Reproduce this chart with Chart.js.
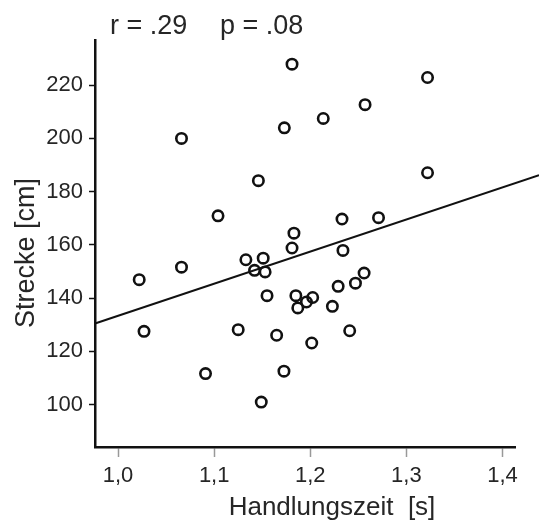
<!DOCTYPE html>
<html>
<head>
<meta charset="utf-8">
<script src="https://cdn.jsdelivr.net/npm/chart.js@4"></script>
<style>
html,body{margin:0;padding:0;background:#fff;}
canvas{display:block;}
</style>
</head>
<body>
<canvas id="c" width="539" height="525"></canvas>
<script>
// Data
const handlungszeit = [1.066,1.181,1.173,1.2135,1.257,1.322,1.322,1.146,1.104,1.233,1.271,1.183,1.181,1.234,1.133,1.151,1.142,1.153,1.066,1.022,1.256,1.247,1.229,1.155,1.185,1.2025,1.196,1.187,1.223,1.027,1.125,1.241,1.165,1.2015,1.091,1.1726,1.149];
const strecke = [200.0,227.9,204.0,207.5,212.7,222.9,187.1,184.1,170.9,169.7,170.2,164.4,158.8,157.9,154.4,155.0,150.4,149.8,151.6,146.9,149.4,145.6,144.4,140.9,140.9,140.2,138.5,136.3,136.9,127.5,128.1,127.7,126.0,123.1,111.6,112.5,100.9];
const fitLineX = [0.976, 1.438];
const fitLineY = [130.4, 186.2];
const xTickValues = [1.0, 1.1, 1.2, 1.3, 1.4];
const yTickValues = [100, 120, 140, 160, 180, 200, 220];
const statsTexts = ['r = .29', 'p = .08'];
const xTitle = 'Handlungszeit  [s]';
const yTitle = 'Strecke [cm]';

const FONT = "'Liberation Sans', Arial, sans-serif";
const TEXT = '#262626';
const INK = '#111';

const points = handlungszeit.map((x, i) => ({x: x, y: strecke[i]}));
const fitPoints = fitLineX.map((x, i) => ({x: x, y: fitLineY[i]}));

const textPlugin = {
  id: 'textPlugin',
  afterDraw(chart) {
    const ctx = chart.ctx;
    ctx.save();
    ctx.fillStyle = TEXT;
    ctx.textBaseline = 'alphabetic';
    // statistics line
    ctx.font = '27px ' + FONT;
    ctx.textAlign = 'left';
    ctx.fillText(statsTexts[0], 110, 34);
    ctx.fillText(statsTexts[1], 220, 34);
    // x axis title
    ctx.font = '26px ' + FONT;
    ctx.textAlign = 'center';
    ctx.fillText(xTitle, 332, 515);
    // y axis title
    ctx.translate(34, 253);
    ctx.rotate(-Math.PI / 2);
    ctx.font = '27px ' + FONT;
    ctx.textAlign = 'center';
    ctx.fillText(yTitle, 0, 0);
    ctx.restore();
  }
};

new Chart(document.getElementById('c'), {
  type: 'scatter',
  data: {
    datasets: [
      {
        label: 'Versuchspersonen',
        data: points,
        pointRadius: 5.2,
        pointHoverRadius: 5.2,
        pointBorderWidth: 2.6,
        pointBackgroundColor: 'rgba(255,255,255,0)',
        pointBorderColor: INK,
        borderColor: INK
      },
      {
        type: 'line',
        label: 'Regression',
        data: fitPoints,
        borderColor: INK,
        borderWidth: 2,
        pointRadius: 0,
        showLine: true,
        fill: false,
        clip: false
      }
    ]
  },
  options: {
    responsive: false,
    animation: false,
    devicePixelRatio: 1,
    layout: { padding: { top: 40, right: 24, left: 0, bottom: 0 } },
    plugins: { legend: { display: false }, tooltip: { enabled: false }, title: { display: false } },
    scales: {
      x: {
        type: 'linear',
        min: 0.976,
        max: 1.413,
        afterBuildTicks: s => { s.ticks = xTickValues.map(v => ({value: v})); },
        afterFit: s => { s.height = 78; },
        ticks: {
          callback: v => Number(v).toFixed(1).replace('.', ','),
          font: { family: FONT, size: 22 },
          color: TEXT,
          padding: 6,
          maxRotation: 0
        },
        grid: { drawOnChartArea: false, drawTicks: true, tickLength: 10, color: '#999', tickWidth: 1.5 },
        border: { display: true, color: INK, width: 2.5 }
      },
      y: {
        type: 'linear',
        min: 84,
        max: 237,
        afterBuildTicks: s => { s.ticks = yTickValues.map(v => ({value: v})); },
        afterFit: s => { s.width = 95; },
        ticks: {
          font: { family: FONT, size: 22 },
          color: TEXT,
          padding: 6
        },
        grid: { drawOnChartArea: false, drawTicks: true, tickLength: 6, color: INK, tickWidth: 1.5 },
        border: { display: true, color: INK, width: 2.5 },
        title: { display: false, text: yTitle }
      }
    }
  },
  plugins: [textPlugin]
});
</script>
</body>
</html>
